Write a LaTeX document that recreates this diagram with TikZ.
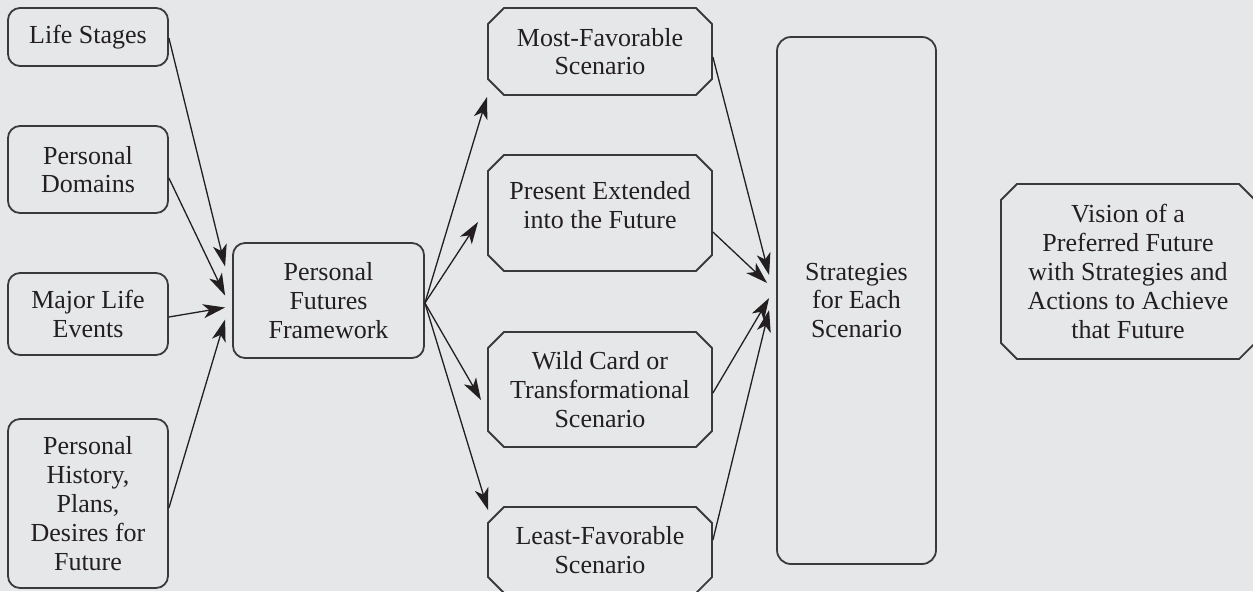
\documentclass[tikz,border=0pt]{standalone}
\usepackage{fontspec}
\setmainfont{Liberation Serif}
\usetikzlibrary{shapes.misc,arrows.meta,calc}
\definecolor{bg}{HTML}{E6E7E9}
\definecolor{boxline}{HTML}{3A3A3C}
\definecolor{txt}{HTML}{231F20}
\begin{document}
\begin{tikzpicture}[x=0.5pt,y=-0.5pt,
  every node/.style={font=\fontsize{13}{14.4}\selectfont, text=txt, align=center, inner sep=0pt},
  rbox/.style={draw=boxline, line width=0.9pt, rounded corners=6pt, rectangle},
  cbox/.style={draw=boxline, line width=0.9pt, chamfered rectangle, chamfered rectangle xsep=4pt, chamfered rectangle ysep=4pt},
  arr/.style={line width=0.65pt, draw=txt, -{Stealth[length=11pt,width=7pt,inset=3pt]}}
]
\fill[bg] (0,0) rectangle (1253,591);
\useasboundingbox (0,0) rectangle (1253,591);

\node[rbox, minimum width=80pt, minimum height=29pt] (ls) at (88,37) {Life Stages};
\node[rbox, minimum width=80pt, minimum height=43.5pt] (pd) at (88,169.5) {Personal\\Domains};
\node[rbox, minimum width=80pt, minimum height=41pt] (ml) at (88,314) {Major Life\\Events};
\node[rbox, minimum width=80pt, minimum height=84.5pt] (ph) at (88,503.5) {Personal\\History,\\Plans,\\Desires for\\Future};
\node[rbox, minimum width=95.5pt, minimum height=57.5pt] (fw) at (328.5,300.5) {Personal\\Futures\\Framework};

\node[cbox, minimum width=112pt, minimum height=43.5pt] (mf) at (600,51.5) {Most-Favorable\\Scenario};
\node[cbox, minimum width=112pt, minimum height=58pt] (pe) at (600,213) {Present Extended\\into the Future\\[-6pt]};
\node[cbox, minimum width=112pt, minimum height=57.5pt] (wc) at (600,389.5) {Wild Card or\\Transformational\\Scenario};
\node[cbox, minimum width=112pt, minimum height=43pt] (lf) at (600,550) {Least-Favorable\\Scenario};

\node[rbox, rounded corners=7pt, minimum width=79.5pt, minimum height=263.5pt] (st) at (856.5,300.5) {Strategies\\for Each\\Scenario};
\node[cbox, minimum width=127pt, minimum height=87.5pt] (vi) at (1128,271.5) {Vision of a\\Preferred Future\\with Strategies and\\Actions to Achieve\\that Future};

% inputs to framework
\draw[arr] ($(ls.east)+(0,1)$) -- ($(fw.west)+(-7,-34)$);
\draw[arr] ($(pd.east)+(0,8.5)$) -- ($(fw.west)+(-7,-5)$);
\draw[arr] ($(ml.east)+(0,3)$) -- ($(fw.west)+(-7,7)$);
\draw[arr] ($(ph.east)+(0,4.5)$) -- ($(fw.west)+(-7,19)$);

% framework to scenarios
\draw[arr] ($(fw.east)+(0,2.5)$) -- ($(mf.center)+(-113,45.5)$);
\draw[arr] ($(fw.east)+(0,2.5)$) -- ($(pe.center)+(-122,9)$);
\draw[arr] ($(fw.east)+(0,2.5)$) -- ($(wc.center)+(-119,10.5)$);
\draw[arr] ($(fw.east)+(0,2.5)$) -- ($(lf.center)+(-112,-40)$);

% scenarios to strategies
\draw[arr] ($(mf.east)+(0,5.5)$) -- ($(st.west)+(-7,-25.5)$);
\draw[arr] ($(pe.east)+(0,19)$) -- ($(st.west)+(-9,-17.5)$);
\draw[arr] ($(wc.east)+(0,3.5)$) -- ($(st.west)+(-7,-2.5)$);
\draw[arr] ($(lf.east)+(0,-10)$) -- ($(st.west)+(-7,9.5)$);
\end{tikzpicture}
\end{document}
